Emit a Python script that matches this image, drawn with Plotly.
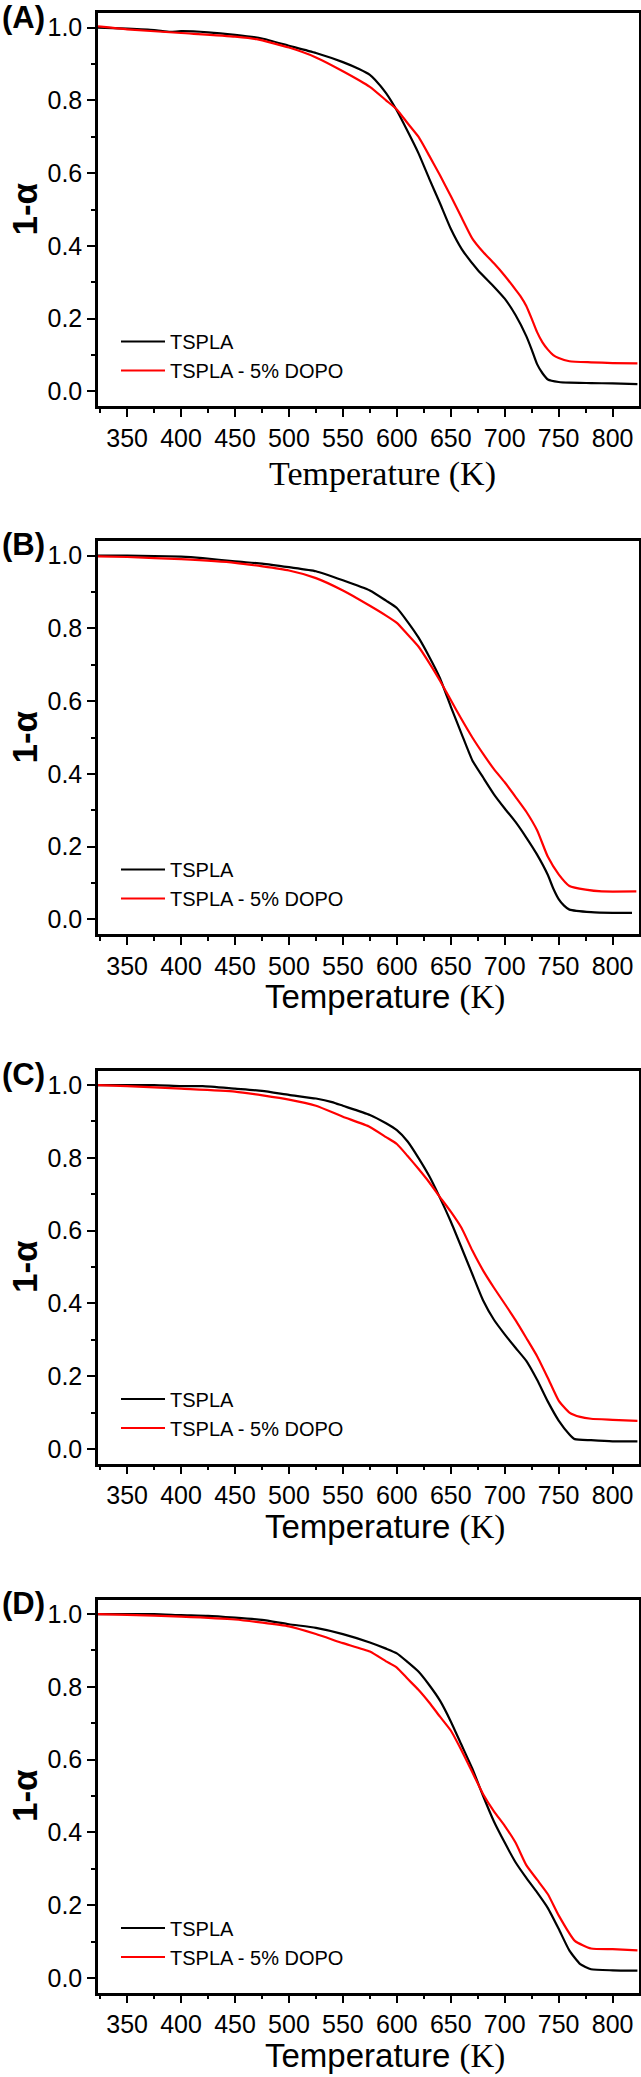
import plotly.graph_objects as go

W, H = 641, 2077

# ---------------- data ----------------
panels = ["(A)", "(B)", "(C)", "(D)"]
series_names = ["TSPLA", "TSPLA - 5% DOPO"]
x_ticks = [350, 400, 450, 500, 550, 600, 650, 700, 750, 800]
y_ticks = [0.0, 0.2, 0.4, 0.6, 0.8, 1.0]

A_T_tspla = [323, 350, 375, 390, 400, 425, 450, 475, 500, 525, 550, 565, 575, 580, 590, 600, 610, 620, 630,
             640, 650, 660, 675, 690, 700, 710, 720, 725, 730, 735, 740, 750, 760, 780, 800, 823]
A_Y_tspla = [1.0, 0.997, 0.993, 0.988, 0.99, 0.987, 0.98, 0.97, 0.95, 0.93, 0.905, 0.886, 0.87, 0.856, 0.82,
             0.772, 0.715, 0.655, 0.585, 0.517, 0.447, 0.392, 0.334, 0.288, 0.255, 0.21, 0.152, 0.115, 0.075,
             0.05, 0.033, 0.026, 0.024, 0.023, 0.022, 0.02]
A_T_dopo = [323, 350, 400, 450, 470, 500, 525, 550, 575, 590, 600, 610, 620, 630, 640, 650, 660, 670, 680,
            690, 700, 710, 715, 720, 725, 730, 735, 740, 745, 750, 760, 780, 800, 823]
A_Y_dopo = [1.003, 0.995, 0.985, 0.975, 0.968, 0.945, 0.918, 0.88, 0.837, 0.80, 0.775, 0.737, 0.70, 0.648,
            0.594, 0.537, 0.478, 0.42, 0.383, 0.352, 0.318, 0.28, 0.26, 0.235, 0.2, 0.163, 0.135, 0.115, 0.1,
            0.092, 0.083, 0.08, 0.078, 0.077]

B_T_tspla = [323, 350, 400, 420, 450, 475, 500, 525, 550, 575, 590, 600, 610, 620, 630, 640, 650, 660, 670,
             680, 690, 700, 710, 720, 730, 740, 745, 750, 755, 760, 780, 800, 818]
B_Y_tspla = [1.0, 1.0, 0.997, 0.993, 0.984, 0.978, 0.968, 0.957, 0.932, 0.904, 0.876, 0.856, 0.818, 0.775,
             0.722, 0.663, 0.585, 0.51, 0.437, 0.39, 0.344, 0.305, 0.268, 0.225, 0.178, 0.122, 0.085, 0.056,
             0.038, 0.027, 0.02, 0.018, 0.018]
B_T_dopo = [323, 350, 400, 450, 500, 525, 550, 575, 590, 600, 610, 620, 630, 640, 650, 660, 670, 680, 690,
            700, 710, 720, 730, 740, 750, 760, 775, 790, 822]
B_Y_dopo = [0.998, 0.996, 0.99, 0.98, 0.959, 0.938, 0.904, 0.862, 0.835, 0.815, 0.783, 0.75, 0.705, 0.656,
            0.603, 0.55, 0.5, 0.455, 0.413, 0.377, 0.337, 0.296, 0.245, 0.172, 0.124, 0.092, 0.082, 0.077, 0.077]

C_T_tspla = [323, 375, 400, 420, 450, 475, 500, 525, 540, 550, 575, 590, 600, 610, 620, 630, 640, 650, 660,
             670, 680, 690, 700, 710, 720, 730, 740, 750, 760, 765, 780, 800, 823]
C_Y_tspla = [1.0, 1.0, 0.997, 0.997, 0.99, 0.984, 0.973, 0.963, 0.953, 0.943, 0.918, 0.895, 0.876, 0.845, 0.8,
             0.75, 0.69, 0.625, 0.553, 0.48, 0.408, 0.355, 0.315, 0.278, 0.242, 0.19, 0.13, 0.078, 0.04, 0.027,
             0.024, 0.021, 0.021]
C_T_dopo = [323, 350, 400, 450, 500, 525, 550, 575, 590, 600, 610, 620, 630, 640, 650, 660, 670, 680, 690,
            700, 710, 720, 730, 740, 750, 760, 770, 780, 800, 823]
C_Y_dopo = [1.0, 0.997, 0.99, 0.982, 0.96, 0.943, 0.913, 0.885, 0.857, 0.838, 0.805, 0.77, 0.733, 0.692, 0.652,
            0.607, 0.545, 0.49, 0.443, 0.399, 0.354, 0.305, 0.255, 0.195, 0.133, 0.1, 0.088, 0.083, 0.08, 0.077]

D_T_tspla = [323, 375, 400, 425, 450, 475, 500, 525, 550, 575, 590, 600, 610, 620, 630, 640, 650, 660, 670,
             680, 690, 700, 710, 720, 730, 740, 750, 760, 770, 780, 800, 823]
D_Y_tspla = [1.0, 1.0, 0.997, 0.995, 0.99, 0.984, 0.972, 0.962, 0.945, 0.922, 0.905, 0.892, 0.868, 0.842, 0.805,
             0.762, 0.705, 0.64, 0.575, 0.5, 0.43, 0.372, 0.318, 0.275, 0.235, 0.192, 0.135, 0.075, 0.038, 0.024,
             0.021, 0.02]
D_T_dopo = [323, 350, 400, 450, 500, 525, 550, 575, 590, 600, 610, 620, 630, 640, 650, 660, 670, 680, 690, 700,
            710, 720, 730, 740, 750, 765, 780, 800, 823]
D_Y_dopo = [1.0, 0.998, 0.993, 0.985, 0.966, 0.945, 0.92, 0.897, 0.87, 0.853, 0.822, 0.792, 0.757, 0.718, 0.68,
            0.625, 0.565, 0.505, 0.458, 0.418, 0.372, 0.31, 0.27, 0.23, 0.172, 0.102, 0.081, 0.079, 0.076]

data = [
    (A_T_tspla, A_Y_tspla, A_T_dopo, A_Y_dopo),
    (B_T_tspla, B_Y_tspla, B_T_dopo, B_Y_dopo),
    (C_T_tspla, C_Y_tspla, C_T_dopo, C_Y_dopo),
    (D_T_tspla, D_Y_tspla, D_T_dopo, D_Y_dopo),
]

# ---------------- layout geometry (pixels) ----------------
frame_left, frame_right = 98, 638.5
frame_tops = [13, 541, 1070.5, 1599.5]
frame_h = 393
colors = ["#000000", "#ff0000"]
SANS = "Arial, Liberation Sans, sans-serif"
SERIF = "Times New Roman, Liberation Serif, serif"


def px(x):
    return x / W


def py(y):
    return 1 - y / H


fig = go.Figure()
layout = dict(
    width=W, height=H,
    margin=dict(l=0, r=0, t=0, b=0),
    paper_bgcolor="white", plot_bgcolor="white",
    showlegend=True,
    annotations=[],
)

for i, (t1, y1, t2, y2) in enumerate(data):
    n = "" if i == 0 else str(i + 1)
    xa, ya = "x" + n, "y" + n
    leg = "legend" + n
    top = frame_tops[i]
    bot = top + frame_h
    for j, (tt, yy) in enumerate([(t1, y1), (t2, y2)]):
        fig.add_trace(go.Scatter(
            x=tt, y=yy, mode="lines", name=series_names[j],
            line=dict(color=colors[j], width=2.2, shape="spline", smoothing=0.5),
            xaxis=xa, yaxis=ya, legend=leg, showlegend=True,
        ))
    axis_common = dict(
        showline=True, linecolor="black", linewidth=2.5, mirror=True,
        showgrid=False, zeroline=False,
        ticks="outside", ticklen=8, tickwidth=2, tickcolor="black",
        tickfont=dict(family=SANS, size=25, color="black"),
    )
    layout["xaxis" + n] = dict(
        axis_common, domain=[px(frame_left), px(frame_right)], anchor=ya,
        range=[323, 824], tickvals=x_ticks,
        minor=dict(dtick=25, tick0=350, ticks="outside", ticklen=4, tickwidth=2, tickcolor="black"),
    )
    layout["yaxis" + n] = dict(
        axis_common, domain=[py(bot), py(top)], anchor=xa,
        range=[-0.04, 1.04], tickvals=y_ticks, tickformat=".1f",
        minor=dict(dtick=0.1, tick0=0, ticks="outside", ticklen=4, tickwidth=2, tickcolor="black"),
    )
    layout[leg] = dict(
        x=px(116), y=py(bot - 84), xanchor="left", yanchor="top",
        bgcolor="rgba(0,0,0,0)", borderwidth=0, itemwidth=44, tracegroupgap=0,
        font=dict(family=SANS, size=20, color="black"),
    )
    # panel letter
    layout["annotations"].append(dict(
        text="<b>%s</b>" % panels[i], x=px(23), y=py(top + 4), xref="paper", yref="paper",
        xanchor="center", yanchor="middle", showarrow=False,
        font=dict(family=SANS, size=31, color="black"),
    ))
    # y title
    layout["annotations"].append(dict(
        text="<b>1-α</b>", x=px(24), y=py(top + frame_h / 2), xref="paper", yref="paper",
        xanchor="center", yanchor="middle", showarrow=False, textangle=-90,
        font=dict(family=SANS, size=35, color="black"),
    ))
    # x title
    if i == 0:
        xt = dict(text="Temperature (K)", font=dict(family=SERIF, size=34, color="black"),
                  x=px(382), y=py(bot + 68))
    else:
        xt = dict(text="Temperature <span style=\"font-family:Liberation Serif\">(K)</span>",
                  font=dict(family=SANS, size=33, color="black"),
                  x=px(385), y=py(bot + 63))
    layout["annotations"].append(dict(
        xt, xref="paper", yref="paper", xanchor="center", yanchor="middle", showarrow=False,
    ))

fig.update_layout(**layout)
fig.write_html(
    "out.html",
    config={"displayModeBar": False},
    post_script="document.body.style.margin='0';document.body.style.overflow='hidden';",
)
